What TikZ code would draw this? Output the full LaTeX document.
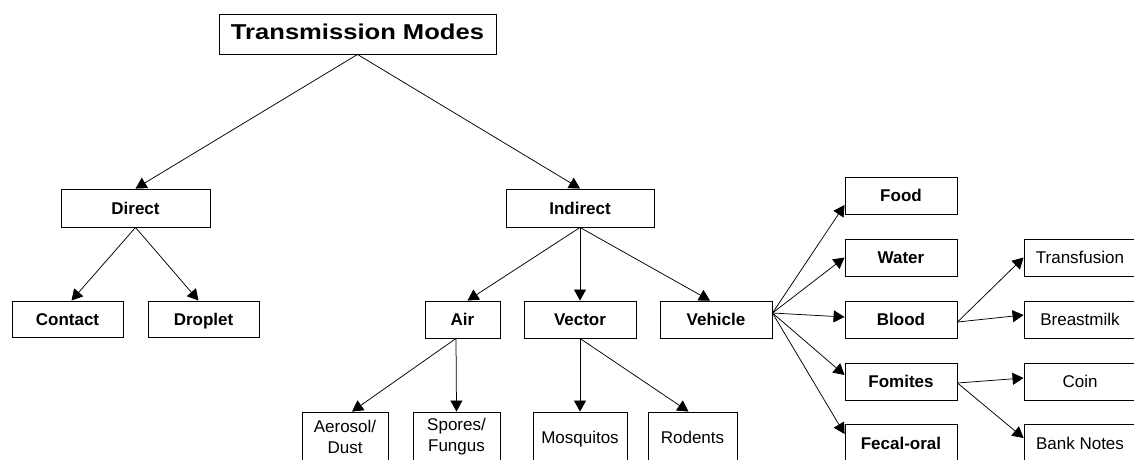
\documentclass[tikz,border=0pt]{standalone}
\usepackage{fontspec}
\usepackage{graphicx}
\setmainfont{Liberation Sans}
\usetikzlibrary{arrows.meta}
\begin{document}
\begin{tikzpicture}[x=1pt,y=-1pt,
  box/.style={draw=black,line width=0.9pt,fill=white,inner sep=0pt,
    minimum width=112pt,minimum height=37pt,align=center,
    text height=13.2pt,text depth=1pt,
    font=\fontsize{17}{21}\selectfont},
  bbox/.style={box,font=\fontsize{17}{21}\selectfont\bfseries},
  twoline/.style={text height=,text depth=},
  link/.style={draw=black,line width=0.75pt,-{Triangle[length=11pt,width=12pt]}}]
\useasboundingbox (0,0) rectangle (1134,459);
\clip (0,0) rectangle (1134,459);

% root
\node[bbox,minimum width=277pt,minimum height=40pt,text height=14.6pt,text depth=4pt,
  font=\fontsize{21.5}{25}\selectfont\bfseries] (tm) at (357.5,34)
  {\scalebox{1.19}[1]{Transmission Modes}};

% first level
\node[bbox,minimum width=149pt,minimum height=38pt] (direct) at (135.5,208) {Direct};
\node[bbox,minimum width=148pt,minimum height=38pt] (indirect) at (580,208) {Indirect};

% direct branch
\node[bbox,minimum width=111pt,minimum height=36pt] (contact) at (67.5,319) {Contact};
\node[bbox,minimum width=111pt,minimum height=36pt] (droplet) at (203.5,319) {Droplet};

% indirect branch
\node[bbox,minimum width=75pt] (air) at (462.5,319.5) {Air};
\node[bbox] (vector) at (580,319.5) {Vector};
\node[bbox] (vehicle) at (716,319.5) {Vehicle};

% air and vector leaves
\node[box,twoline,minimum width=86pt,minimum height=50pt] (aerosol) at (345,437) {Aerosol/\\Dust};
\node[box,twoline,minimum width=87pt,minimum height=50pt] (spores) at (456.5,437) {Spores/\\Fungus};
\node[box,minimum width=94pt,minimum height=50pt] (mosquitos) at (580,437) {Mosquitos};
\node[box,minimum width=89pt,minimum height=50pt] (rodents) at (692.5,437) {Rodents};

% vehicle column
\node[bbox] (food) at (901,195.5) {Food};
\node[bbox] (water) at (901,257.5) {Water};
\node[bbox] (blood) at (901,319.5) {Blood};
\node[bbox] (fomites) at (901,381.5) {Fomites};
\node[bbox] (fecal) at (901,443) {Fecal-oral};

% blood and fomites leaves
\node[box] (transfusion) at (1080,257.5) {Transfusion};
\node[box] (breastmilk) at (1080,319.5) {Breastmilk};
\node[box] (coin) at (1080,381.5) {Coin};
\node[box] (banknotes) at (1080,443) {Bank Notes};

% connectors
\draw[link] (tm.south) -- (direct.north);
\draw[link] (tm.south) -- (indirect.north);

\draw[link] (direct.south) -- ([xshift=4pt]contact.north);
\draw[link] (direct.south) -- ([xshift=-5pt]droplet.north);

\draw[link] (indirect.south) -- ([xshift=5pt]air.north);
\draw[link] (indirect.south) -- (vector.north);
\draw[link] (indirect.south) -- ([xshift=-6pt]vehicle.north);

\coordinate (airout) at ([xshift=-6.5pt]air.south);
\draw[link] (airout) -- ([xshift=7pt]aerosol.north);
\draw[link] (airout) -- (spores.north);

\draw[link] (vector.south) -- (mosquitos.north);
\draw[link] (vector.south) -- ([xshift=-4pt]rodents.north);

\coordinate (fan) at ([yshift=6.5pt]vehicle.east);
\draw[link] (fan) -- ([yshift=-9.5pt]food.west);
\draw[link] (fan) -- (water.west);
\draw[link] (fan) -- ([yshift=2.5pt]blood.west);
\draw[link] (fan) -- ([yshift=6.5pt]fomites.west);
\draw[link] (fan) -- ([yshift=9pt]fecal.west);

\coordinate (bloodout) at ([yshift=-2.5pt]blood.east);
\draw[link] (bloodout) -- (transfusion.west);
\draw[link] (bloodout) -- ([yshift=4.5pt]breastmilk.west);

\coordinate (fomout) at ([yshift=-1.5pt]fomites.east);
\draw[link] (fomout) -- ([yshift=3.5pt]coin.west);
\draw[link] (fomout) -- ([yshift=5pt]banknotes.west);
\end{tikzpicture}
\end{document}
